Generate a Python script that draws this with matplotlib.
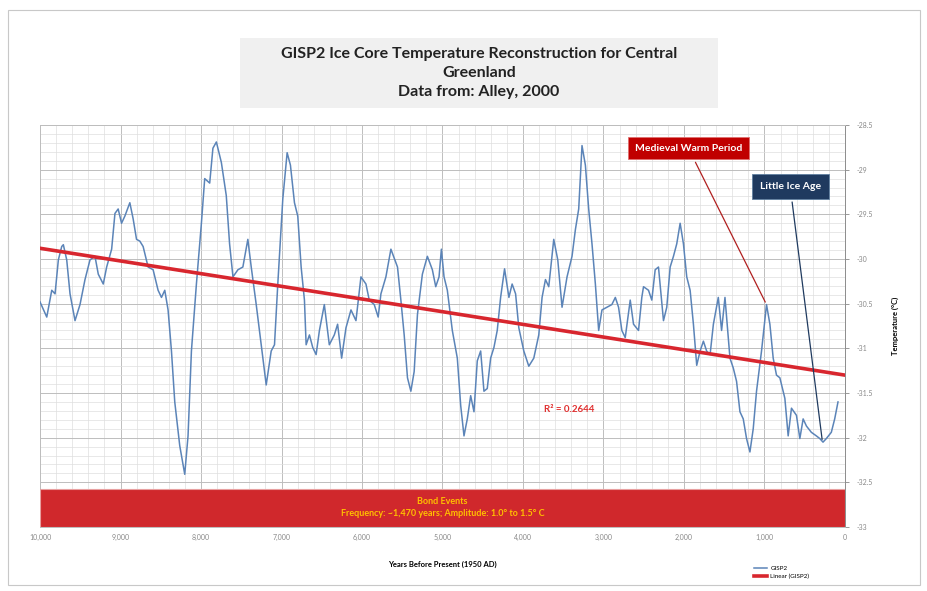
import matplotlib
matplotlib.use("Agg")
import matplotlib.pyplot as plt
import numpy as np
from matplotlib.patches import Rectangle
from matplotlib.ticker import FuncFormatter, MultipleLocator

# GISP2 temperature (years before 1950, deg C)
years = [10000, 9916, 9854, 9813, 9772, 9730, 9710, 9668, 9627, 9565,
         9503, 9441, 9379, 9317, 9276, 9214, 9172, 9110, 9069, 9029,
         8987, 8946, 8884, 8843, 8801, 8760, 8719, 8657, 8595, 8533,
         8491, 8450, 8409, 8367, 8326, 8264, 8202, 8161, 8119, 8057,
         7995, 7954, 7892, 7852, 7809, 7747, 7686, 7645, 7603, 7541,
         7480, 7418, 7376, 7314, 7252, 7190, 7128, 7087, 7046, 6984,
         6930, 6889, 6839, 6798, 6756, 6715, 6694, 6653, 6612, 6570,
         6529, 6468, 6406, 6344, 6303, 6253, 6199, 6137, 6075, 6013,
         5951, 5910, 5848, 5799, 5765, 5703, 5641, 5559, 5517, 5476,
         5435, 5393, 5352, 5311, 5250, 5188, 5126, 5084, 5043, 5014,
         4981, 4940, 4878, 4816, 4774, 4733, 4692, 4650, 4609, 4568,
         4526, 4485, 4444, 4402, 4361, 4320, 4278, 4229, 4175, 4135,
         4092, 4052, 3990, 3928, 3866, 3804, 3763, 3721, 3680, 3618,
         3568, 3515, 3453, 3391, 3349, 3308, 3267, 3225, 3184, 3143,
         3101, 3060, 3019, 2957, 2896, 2853, 2813, 2772, 2730, 2668,
         2627, 2565, 2524, 2503, 2441, 2400, 2358, 2317, 2255, 2214,
         2172, 2131, 2090, 2048, 2007, 1966, 1924, 1883, 1842, 1800,
         1759, 1719, 1676, 1635, 1574, 1533, 1491, 1450, 1429, 1388,
         1347, 1305, 1264, 1223, 1181, 1140, 1099, 1037, 975, 933,
         892, 851, 809, 747, 706, 665, 603, 561, 520, 479,
         418, 356, 313, 273, 232, 170, 128, 87]
temps = [-30.48, -30.65, -30.35, -30.39, -30.01, -29.86, -29.84, -30.01, -30.39, -30.69,
         -30.51, -30.23, -30.01, -29.97, -30.17, -30.28, -30.09, -29.89, -29.49, -29.44,
         -29.60, -29.52, -29.37, -29.55, -29.78, -29.80, -29.86, -30.09, -30.12, -30.35,
         -30.43, -30.35, -30.57, -31.03, -31.60, -32.09, -32.41, -31.98, -31.03, -30.28,
         -29.60, -29.10, -29.15, -28.76, -28.69, -28.92, -29.29, -29.83, -30.20, -30.12,
         -30.09, -29.78, -30.09, -30.51, -30.96, -31.41, -31.03, -30.96, -30.28, -29.33,
         -28.81, -28.95, -29.37, -29.52, -30.09, -30.46, -30.96, -30.85, -30.99, -31.07,
         -30.80, -30.51, -30.96, -30.85, -30.73, -31.11, -30.77, -30.57, -30.69, -30.20,
         -30.28, -30.46, -30.51, -30.65, -30.39, -30.20, -29.89, -30.09, -30.46, -30.85,
         -31.33, -31.48, -31.26, -30.62, -30.17, -29.97, -30.12, -30.31, -30.20, -29.89,
         -30.20, -30.35, -30.80, -31.11, -31.64, -31.98, -31.79, -31.53, -31.71, -31.14,
         -31.03, -31.48, -31.45, -31.11, -30.99, -30.80, -30.43, -30.11, -30.43, -30.28,
         -30.39, -30.77, -31.03, -31.20, -31.11, -30.85, -30.43, -30.23, -30.31, -29.78,
         -30.01, -30.54, -30.20, -29.97, -29.67, -29.44, -28.73, -28.95, -29.44, -29.83,
         -30.28, -30.80, -30.57, -30.54, -30.51, -30.43, -30.54, -30.80, -30.88, -30.46,
         -30.73, -30.80, -30.43, -30.31, -30.35, -30.46, -30.12, -30.09, -30.69, -30.54,
         -30.09, -29.97, -29.83, -29.60, -29.83, -30.20, -30.35, -30.73, -31.19, -31.03,
         -30.92, -31.03, -31.07, -30.73, -30.43, -30.80, -30.43, -30.88, -31.11, -31.22,
         -31.37, -31.71, -31.79, -32.01, -32.16, -31.90, -31.48, -31.03, -30.51, -30.73,
         -31.11, -31.30, -31.33, -31.56, -31.98, -31.67, -31.75, -32.01, -31.79, -31.87,
         -31.94, -31.98, -32.01, -32.05, -32.01, -31.94, -31.79, -31.60]

# linear trend line as drawn on the original (value at 10,000 and at 0 years BP)
trend_years = [10000, 0]
trend_temps = [-29.88, -31.30]

x_ticks = [10000, 9000, 8000, 7000, 6000, 5000, 4000, 3000, 2000, 1000, 0]
y_ticks = [-28.5, -29, -29.5, -30, -30.5, -31, -31.5, -32, -32.5, -33]

r2_label = "R² = 0.2644"
title = "GISP2 Ice Core Temperature Reconstruction for Central\nGreenland\nData from: Alley, 2000"
bond_text = "Bond Events\nFrequency: ~1,470 years; Amplitude: 1.0° to 1.5° C"

plt.rcParams["font.family"] = ["Lato", "DejaVu Sans"]

fig = plt.figure(figsize=(9.28, 5.91), dpi=100)
fig.patch.set_facecolor("white")

# outer frame of the chart area
fig.add_artist(Rectangle((8 / 928, 6 / 591), 912 / 928, 575 / 591, transform=fig.transFigure,
                         fill=False, edgecolor="#c8c8c8", lw=0.8))

ax = fig.add_axes([40 / 928, 1 - 527 / 591, 805 / 928, 402 / 591])

ax.plot(years, temps, color="#5b84b8", lw=1.1, label="GISP2", zorder=3)
ax.plot(trend_years, trend_temps, color="#d8262e", lw=2.6, label="Linear (GISP2)", zorder=4)

ax.set_xlim(10000, 0)
ax.set_ylim(-33, -28.5)

ax.yaxis.tick_right()
ax.yaxis.set_label_position("right")
ax.set_xticks(x_ticks)
ax.set_yticks(y_ticks)
ax.xaxis.set_minor_locator(MultipleLocator(200))
ax.yaxis.set_minor_locator(MultipleLocator(0.1))
ax.xaxis.set_major_formatter(FuncFormatter(lambda v, p: f"{int(v):,}"))
ax.yaxis.set_major_formatter(FuncFormatter(lambda v, p: f"{v:g}"))
ax.tick_params(axis="both", which="major", labelsize=5, colors="#888888", length=3, width=0.6)
ax.tick_params(axis="both", which="minor", length=0)
ax.tick_params(axis="x", length=0, pad=5)
ax.tick_params(axis="y", pad=5)

ax.grid(which="major", color="#bdbdbd", lw=0.7)
ax.grid(which="minor", color="#dedede", lw=0.5)
ax.set_axisbelow(True)
for side, sp in ax.spines.items():
    sp.set_color("#bdbdbd")
    sp.set_linewidth(0.7)
ax.spines["right"].set_color("#8c8c8c")

ax.set_xlabel("Years Before Present (1950 AD)", fontsize=5.5, fontweight="bold", labelpad=14)
ax.set_ylabel("Temperature (°C)", fontsize=5.5, fontweight="bold", labelpad=14)

# Bond events band
ax.add_patch(Rectangle((0, 0.0), 1, 0.095, transform=ax.transAxes, facecolor="#d0282c",
                       edgecolor="#e8a0a0", lw=0.8, zorder=5))
ax.text(0.5, 0.048, bond_text, transform=ax.transAxes, ha="center", va="center",
        fontsize=6.5, fontweight="bold", color="#ffc000", linespacing=1.5, zorder=6)

ax.text(3430, -31.69, r2_label, ha="center", va="center", fontsize=7,
        fontweight="bold", color="#e03030", zorder=6)

# callouts
ax.annotate("Medieval Warm Period", xy=(975, -30.51), xytext=(1945, -28.76),
            ha="center", va="center", fontsize=7.5, fontweight="bold", color="white",
            bbox=dict(boxstyle="square,pad=0.65", facecolor="#c00000", edgecolor="#e07070", lw=0.6),
            arrowprops=dict(arrowstyle="-", color="#b02020", lw=0.9), zorder=7)
ax.annotate("Little Ice Age", xy=(280, -32.05), xytext=(681, -29.19),
            ha="center", va="center", fontsize=7.5, fontweight="bold", color="white",
            bbox=dict(boxstyle="square,pad=0.75", facecolor="#1f3a5f", edgecolor="#6080a0", lw=0.6),
            arrowprops=dict(arrowstyle="-", color="#1f3a5f", lw=0.9), zorder=7)

# title box
fig.add_artist(Rectangle((240 / 928, 1 - 108 / 591), 478 / 928, 70 / 591, transform=fig.transFigure,
                         facecolor="#f0f0f0", edgecolor="none"))
fig.text(479 / 928, 1 - 73 / 591, title, ha="center", va="center", fontsize=11.5,
         fontweight="bold", color="#222222", linespacing=1.45)

fig.legend(loc="lower left", bbox_to_anchor=(748 / 928, 6 / 591), fontsize=4.5, frameon=False,
           handlelength=2.2, labelspacing=0.4, handletextpad=0.5)

fig.savefig("out.png", dpi=100, facecolor="white")
